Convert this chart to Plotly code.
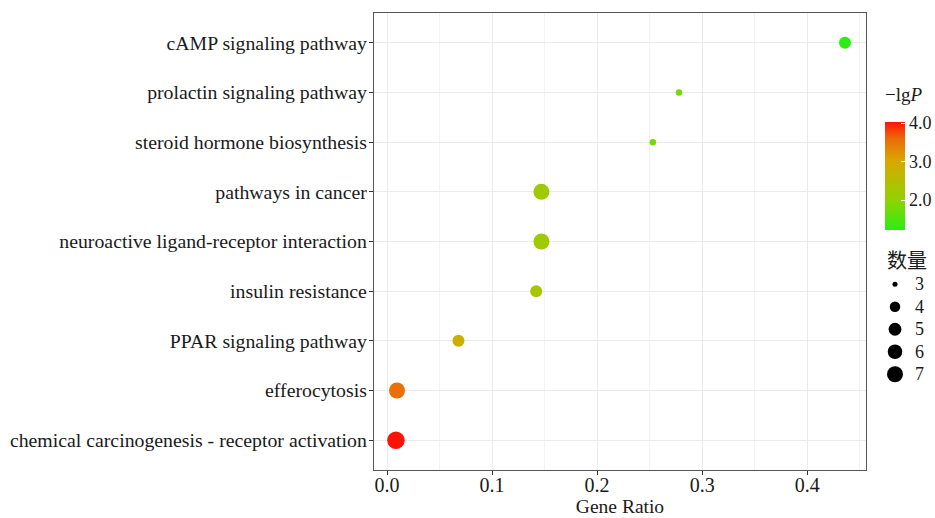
import plotly.graph_objects as go

pathways = [
    "chemical carcinogenesis - receptor activation",
    "efferocytosis",
    "PPAR signaling pathway",
    "insulin resistance",
    "neuroactive ligand-receptor interaction",
    "pathways in cancer",
    "steroid hormone biosynthesis",
    "prolactin signaling pathway",
    "cAMP signaling pathway",
]
gene_ratio = [0.0085, 0.0095, 0.068, 0.142, 0.147, 0.147, 0.253, 0.278, 0.436]
counts = [7, 6, 4, 4, 6, 6, 3, 3, 4]
neg_log_p = [4.03, 3.55, 2.8, 2.3, 2.2, 2.2, 1.8, 1.8, 1.25]
legend_counts = [3, 4, 5, 6, 7]
cbar_ticks = [2, 3, 4]
cbar_labels = ["2.0", "3.0", "4.0"]

FONT = "Liberation Serif, Times New Roman, Noto Sans CJK SC, serif"

FW, FH = 935, 518
L, R, T, B = 374, 866, 13, 470
W, H = R - L, B - T


def diam(c):
    return 5 + 11 * ((c - 3) / 4) ** 0.5


def px_x(p):
    return (p - L) / W


def px_y(p):
    return 1 - (p - T) / H


CMIN, CMAX = 1.22, 4.03
colorscale = [
    [0.0, "#28EE14"],
    [(2.0 - CMIN) / (CMAX - CMIN), "#92D200"],
    [(3.0 - CMIN) / (CMAX - CMIN), "#D8A800"],
    [(3.6 - CMIN) / (CMAX - CMIN), "#EC6A08"],
    [1.0, "#FF1208"],
]

fig = go.Figure()
fig.add_trace(go.Scatter(
    x=gene_ratio, y=pathways, mode="markers",
    marker=dict(
        size=[diam(c) + 1.5 for c in counts],
        color=neg_log_p, colorscale=colorscale, cmin=CMIN, cmax=CMAX,
        line=dict(width=0), opacity=1,
        colorbar=dict(
            thickness=20, len=108, lenmode="pixels",
            x=px_x(875), xanchor="left", y=px_y(176), yanchor="middle",
            ypad=0, xpad=10,
            tickvals=cbar_ticks, ticktext=cbar_labels,
            ticks="inside", tickcolor="white", ticklen=4,
            outlinewidth=0, tickfont=dict(size=18, family=FONT, color="#1a1a1a"),
        ),
    ),
    showlegend=False, hoverinfo="x+y",
))
for c in legend_counts:
    fig.add_trace(go.Scatter(
        x=[None], y=[None], mode="markers",
        name=f'<span style="font-size:18px">{c}</span>',
        marker=dict(size=diam(c), color="black"), showlegend=True,
    ))

fig.add_annotation(
    text="−lg<i>P</i>", xref="paper", yref="paper",
    x=px_x(883), y=px_y(95), xanchor="left", yanchor="middle",
    showarrow=False, font=dict(size=19, family=FONT, color="#1a1a1a"),
)

fig.update_layout(
    width=FW, height=FH,
    margin=dict(l=L, r=FW - R, t=T, b=FH - B, autoexpand=False),
    paper_bgcolor="white", plot_bgcolor="white",
    font=dict(family=FONT, size=19, color="#1a1a1a"),
    legend=dict(
        title=dict(text="\u00a0\u00a0数量", font=dict(size=20, family=FONT)),
        x=px_x(875), xanchor="left", y=px_y(242), yanchor="top",
        itemsizing="trace", font=dict(size=15, family=FONT),
        tracegroupgap=0, bgcolor="rgba(0,0,0,0)",
    ),
    xaxis=dict(
        range=[-0.0124, 0.456],
        tickvals=[0, 0.1, 0.2, 0.3, 0.4],
        ticktext=["0.0", "0.1", "0.2", "0.3", "0.4"],
        showgrid=True, gridcolor="#EBEBEB", gridwidth=1.2,
        minor=dict(tickvals=[0.05, 0.15, 0.25, 0.35, 0.45], showgrid=True,
                   gridcolor="#F3F3F3", gridwidth=0.8),
        ticks="outside", ticklen=4, tickcolor="#333",
        ticklabelstandoff=-7,
        showline=True, linecolor="#555", linewidth=1.3, mirror=True,
        zeroline=False,
        title=dict(text="Gene Ratio", font=dict(size=19.5, family=FONT), standoff=3),
        tickfont=dict(size=20, family=FONT, color="#1a1a1a"),
    ),
    yaxis=dict(
        categoryorder="array", categoryarray=pathways,
        range=[-0.6, 8.6],
        showgrid=True, gridcolor="#EBEBEB", gridwidth=1.2,
        ticks="outside", ticklen=4, tickcolor="#333",
        ticklabelstandoff=-2,
        showline=True, linecolor="#555", linewidth=1.3, mirror=True,
        zeroline=False,
        tickfont=dict(size=19.8, family=FONT, color="#1a1a1a"),
    ),
)

fig.write_html(
    "out.html",
    config={"displayModeBar": False},
    post_script="document.body.style.margin='0';document.body.style.overflow='hidden';",
)
